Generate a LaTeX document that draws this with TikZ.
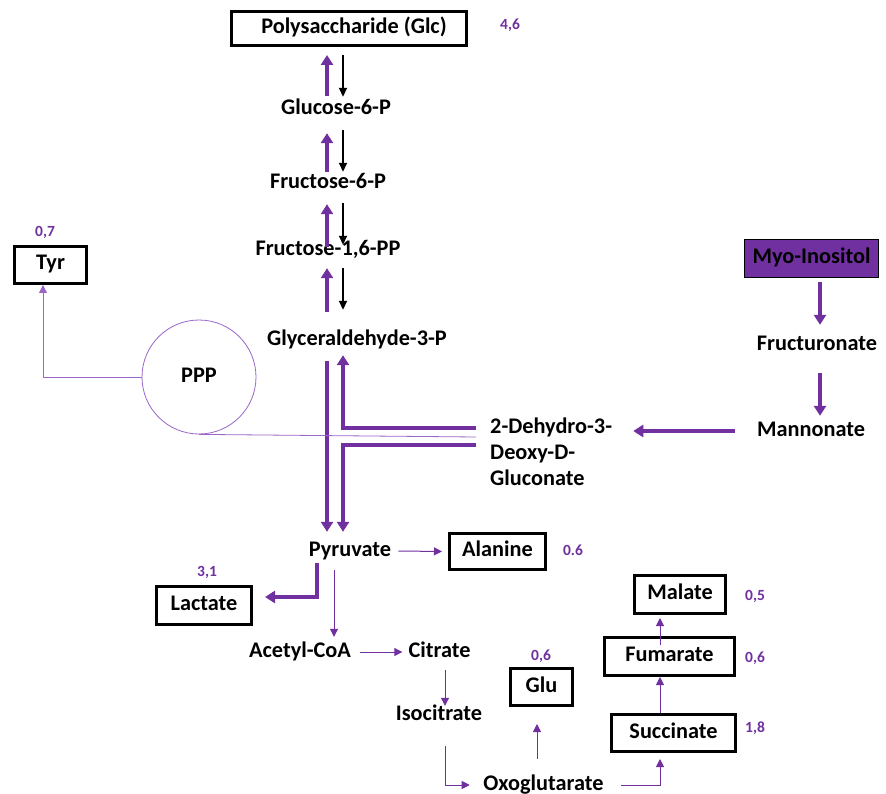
\documentclass[tikz,border=0pt]{standalone}
\usepackage{fontspec}
\setmainfont{Carlito}
\usetikzlibrary{arrows.meta}
\definecolor{pur}{HTML}{7030A0}
\definecolor{purlight}{HTML}{9A66C8}

\begin{document}
\begin{tikzpicture}[x=1pt,y=-1pt,
  lbl/.style={font=\fontsize{22.3}{26}\selectfont\bfseries, text height=15pt, text depth=5pt, inner sep=2pt},
  box/.style={lbl, draw=black, line width=3pt},
  num/.style={font=\fontsize{15.5}{18}\selectfont\bfseries, text=pur, inner sep=0pt},
  thickp/.style={draw=pur, line width=4pt, -{Triangle[length=10pt,width=12pt]}},
  blk/.style={draw=black, line width=1.8pt, -{Triangle[length=9pt,width=8pt]}},
  thinp/.style={draw=pur, line width=1pt, -{Triangle[length=8pt,width=8pt]}},
  fine/.style={draw=purlight, line width=0.8pt}]

\fill[white] (0,0) rectangle (886,794);
\useasboundingbox (0,0) rectangle (886,794);

% columns used by the vertical connectors
\coordinate (colA) at (327,0);
\coordinate (colB) at (343,0);
\coordinate (colM) at (820,0);
\coordinate (colP) at (317,0);
\coordinate (colQ) at (334,0);
\coordinate (colC) at (445,0);
\coordinate (colG) at (537,0);
\coordinate (colS) at (660,0);

% glycolysis / gluconeogenesis chain
\node[box, minimum width=235pt, minimum height=34pt] (poly) at (349,28.5) {\hspace*{10pt}Polysaccharide (Glc)};
\node[num] at (510,25) {4,6};
\node[lbl] (g6p) at (336,110) {Glucose-6-P};
\node[lbl] (f6p) at (328,184) {Fructose-6-P};
\node[lbl] (f16) at (328,251) {Fructose-1,6-PP};
\node[lbl] (g3p) at (357,340) {Glyceraldehyde-3-P};

% pentose phosphate pathway and tyrosine
\node[lbl, circle, draw=purlight, line width=0.8pt, minimum size=114pt] (ppp) at (199,377) {PPP};
\node[box, minimum width=72pt, minimum height=37pt] (tyr) at (50.5,265) {Tyr};
\node[num] at (45,232) {0,7};

% myo-inositol branch
\node[lbl, draw=black, line width=1pt, fill=pur, minimum width=134pt, minimum height=38pt] (myo) at (811.5,258.5) {Myo-Inositol};
\node[lbl] (fru) at (817,345) {Fructuronate};
\node[lbl] (mann) at (811,431) {Mannonate};
\node[font=\fontsize{22.3}{26}\selectfont\bfseries, align=left, anchor=west, inner sep=2pt] (dhdg) at (488,452) {2-Dehydro-3-\\Deoxy-D-\\Gluconate};

% pyruvate and its products
\node[lbl] (pyr) at (350,551) {Pyruvate};
\node[box, minimum width=96pt, minimum height=36pt] (ala) at (497.5,551.5) {Alanine};
\node[num] at (573,550) {0.6};
\node[box, minimum width=95pt, minimum height=38pt] (lac) at (204,605.5) {Lactate};
\node[num] at (207,572) {3,1};

% TCA cycle
\node[lbl] (acoa) at (300,652) {Acetyl-CoA};
\node[lbl] (cit) at (439.5,652) {Citrate};
\node[lbl] (iso) at (439,715) {Isocitrate};
\node[lbl] (oxo) at (543.5,785) {Oxoglutarate};
\node[box, minimum width=62pt, minimum height=37pt] (glu) at (541.5,687) {Glu};
\node[num] at (541,656) {0,6};
\node[box, minimum width=124pt, minimum height=37pt] (suc) at (673.5,733) {Succinate};
\node[num] at (755,728) {1,8};
\node[box, minimum width=130pt, minimum height=38pt] (fum) at (669.5,656.5) {Fumarate};
\node[num] at (755,658) {0,6};
\node[box, minimum width=91pt, minimum height=38pt] (mal) at (680,594.5) {Malate};
\node[num] at (755,596) {0,5};

% upward (purple) and downward (black) steps of the chain
\draw[thickp, shorten <=2pt, shorten >=8pt] (colA |- g6p.north) -- (colA |- poly.south);
\draw[blk, shorten <=8pt, shorten >=1pt] (colB |- poly.south) -- (colB |- g6p.north);
\draw[thickp, shorten <=0pt, shorten >=11pt] (colA |- f6p.north) -- (colA |- g6p.south);
\draw[blk, shorten <=8pt, shorten >=0pt] (colB |- g6p.south) -- (colB |- f6p.north);
\draw[thickp, shorten <=-8pt, shorten >=8pt] (colA |- f16.north) -- (colA |- f6p.south);
\draw[blk, shorten <=7pt, shorten >=-6pt] (colB |- f6p.south) -- (colB |- f16.north);
\draw[thickp, shorten <=16pt, shorten >=5pt] (colA |- g3p.north) -- (colA |- f16.south);
\draw[blk, shorten <=5pt, shorten >=18pt] (colB |- f16.south) -- (colB |- g3p.north);

% glyceraldehyde-3-P, pyruvate and the gluconate junction
\draw[thickp, shorten <=9pt, shorten >=7pt] (colA |- g3p.south) -- (colA |- pyr.north);
\draw[thickp, shorten >=3pt] ([xshift=-12pt,yshift=24pt]dhdg.west) -| (colB |- g3p.south);
\draw[thickp, shorten >=7pt] ([xshift=-12pt,yshift=7pt]dhdg.west) -| (colB |- pyr.north);
\draw[fine] (ppp.south) -- ([xshift=-12pt,yshift=15pt]dhdg.west);
\draw[fine, -{Triangle[length=8pt,width=8pt]}] (ppp.west) -| ([xshift=-7.5pt]tyr.south);

% myo-inositol degradation
\draw[thickp, line width=4.5pt, shorten <=4pt, shorten >=8pt] (colM |- myo.south) -- (colM |- fru.north);
\draw[thickp, line width=4.5pt, shorten <=16pt, shorten >=3pt] (colM |- fru.south) -- (colM |- mann.north);
\draw[thickp, line width=4.5pt, shorten <=20pt, shorten >=19pt] (mann.west) -- (mann.west -| dhdg.east);

% pyruvate branches
\draw[thinp, shorten <=5pt, shorten >=6pt] (pyr.east) -- (ala.west);
\draw[thickp, shorten >=12pt] (colP |- pyr.south) |- ([yshift=8.5pt]lac.east);
\draw[thinp, shorten <=7pt, shorten >=3pt] (colQ |- pyr.south) -- (colQ |- acoa.north);

% TCA cycle steps
\draw[thinp, shorten <=7pt, shorten >=4pt] (acoa.east) -- (cit.west);
\draw[thinp, shorten <=6pt, shorten >=-3pt] (colC |- cit.south) -- (colC |- iso.north);
\draw[thinp, shorten <=19pt, shorten >=11.5pt] (colC |- iso.south) |- (oxo.west);
\draw[thinp, shorten <=14pt, shorten >=17pt] (colG |- oxo.north) -- (colG |- glu.south);
\draw[thinp, shorten <=15.5pt, shorten >=6pt] (oxo.east) -| (colS |- suc.south);
\draw[thinp] (colS |- suc.north) -- (colS |- fum.south);
\draw[thinp, shorten <=-9pt, shorten >=3pt] (colS |- fum.north) -- (colS |- mal.south);
\end{tikzpicture}
\end{document}
